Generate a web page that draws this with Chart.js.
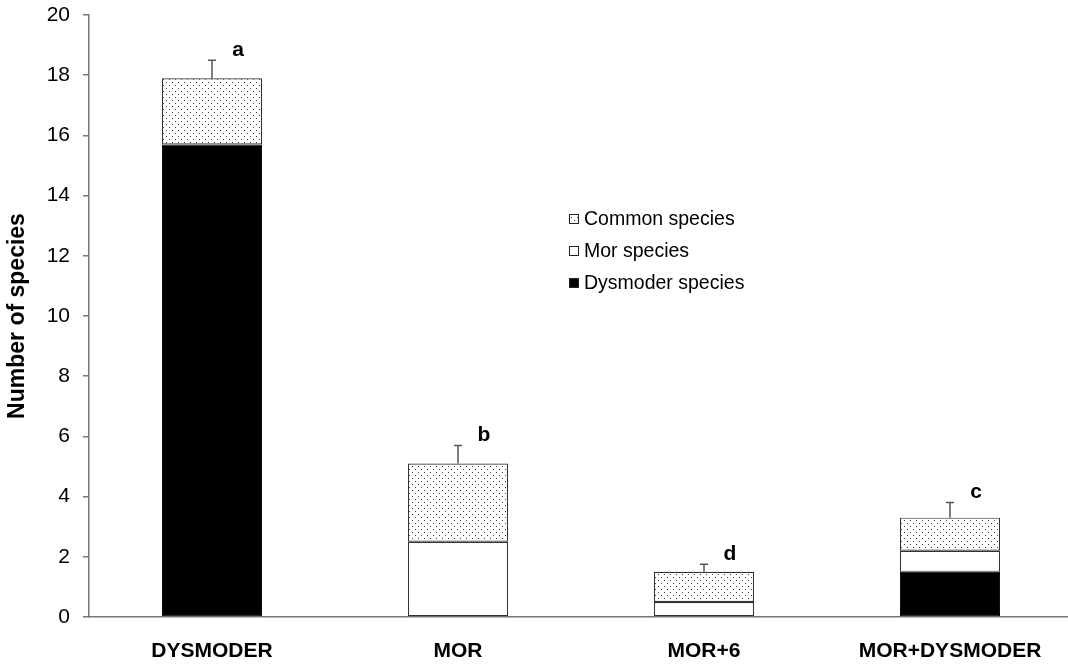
<!DOCTYPE html>
<html>
<head>
<meta charset="utf-8">
<script src="https://cdn.jsdelivr.net/npm/chart.js@4.4.1/dist/chart.umd.min.js"></script>
<style>
  html, body { margin: 0; padding: 0; background: #fff; overflow: hidden; }
  #wrap { position: relative; width: 1076px; height: 670px; }
</style>
</head>
<body>
<div id="wrap"><canvas id="c" width="1076" height="670"></canvas></div>
<script>
const categories = ['DYSMODER', 'MOR', 'MOR+6', 'MOR+DYSMODER'];
const dysmoderSpecies = [15.7, 0, 0, 1.5];
const morSpecies = [0, 2.5, 0.5, 0.7];
const commonSpecies = [2.2, 2.6, 1.0, 1.1];
const errorUp = [0.6, 0.6, 0.25, 0.5];
const groupLetters = ['a', 'b', 'd', 'c'];
const legendLabels = ['Common species', 'Mor species', 'Dysmoder species'];
const yMin = 0, yMax = 20, yStep = 2;

const FONT = '"Liberation Sans", Arial, sans-serif';

function makeDots() {
  const p = document.createElement('canvas');
  p.width = 6; p.height = 6;
  const g = p.getContext('2d');
  g.fillStyle = '#fff';
  g.fillRect(0, 0, 6, 6);
  g.fillStyle = '#3a3a3a';
  g.fillRect(1, 1, 1, 1);
  g.fillRect(4, 4, 1, 1);
  return g.createPattern(p, 'repeat');
}
const ctx0 = document.getElementById('c').getContext('2d');
const dots = makeDots();

const extras = {
  id: 'extras',
  afterDatasetsDraw(chart) {
    const { ctx, scales: { x, y } } = chart;
    ctx.save();
    for (let i = 0; i < categories.length; i++) {
      const total = dysmoderSpecies[i] + morSpecies[i] + commonSpecies[i];
      const px = x.getPixelForValue(i);
      const yTop = y.getPixelForValue(total);
      const yErr = y.getPixelForValue(total + errorUp[i]);
      ctx.strokeStyle = '#555';
      ctx.lineWidth = 1.5;
      ctx.beginPath();
      ctx.moveTo(px, yTop);
      ctx.lineTo(px, yErr);
      ctx.moveTo(px - 4, yErr);
      ctx.lineTo(px + 4, yErr);
      ctx.stroke();
      ctx.fillStyle = '#000';
      ctx.font = 'bold 21px ' + FONT;
      ctx.textAlign = 'center';
      ctx.textBaseline = 'middle';
      ctx.fillText(groupLetters[i], px + 26, yErr - 10);
    }
    // legend inside the plot
    const fills = [dots, '#fff', '#000'];
    const lx = 569, ly0 = 219, dy = 32;
    ctx.font = '19.5px ' + FONT;
    ctx.textAlign = 'left';
    ctx.textBaseline = 'middle';
    for (let k = 0; k < legendLabels.length; k++) {
      const cy = ly0 + k * dy;
      ctx.fillStyle = fills[k];
      ctx.fillRect(lx, cy - 5, 10, 10);
      ctx.strokeStyle = '#222';
      ctx.lineWidth = 1;
      ctx.strokeRect(lx + 0.5, cy - 4.5, 9, 9);
      ctx.fillStyle = '#000';
      ctx.fillText(legendLabels[k], lx + 15, cy + 1);
    }
    ctx.restore();
  }
};

new Chart(ctx0, {
  type: 'bar',
  data: {
    labels: categories,
    datasets: [
      { label: 'Dysmoder species', data: dysmoderSpecies, backgroundColor: '#000', borderColor: '#000', borderWidth: 1, borderSkipped: false },
      { label: 'Mor species', data: morSpecies, backgroundColor: '#fff', borderColor: '#333', borderWidth: 1.2, borderSkipped: false },
      { label: 'Common species', data: commonSpecies, backgroundColor: dots, borderColor: '#333', borderWidth: 1.2, borderSkipped: false }
    ]
  },
  options: {
    responsive: false,
    animation: false,
    layout: { padding: { top: 15, right: 3, left: 0, bottom: 0 } },
    datasets: { bar: { categoryPercentage: 1.0, barPercentage: 0.407 } },
    plugins: { legend: { display: false }, tooltip: { enabled: false } },
    scales: {
      x: {
        stacked: true,
        afterFit(s) { s.height = 53; s.paddingLeft = 0; s.paddingRight = 0; },
        grid: { display: true, drawOnChartArea: false, drawTicks: false },
        border: { display: true, color: '#777', width: 1.5 },
        ticks: { color: '#000', padding: 22, font: { family: FONT, size: 21, weight: 'bold' } }
      },
      y: {
        stacked: true,
        min: yMin, max: yMax,
        afterFit(s) { s.width = 89; s.paddingTop = 0; s.paddingBottom = 0; },
        grid: { display: true, drawOnChartArea: false, drawTicks: true, tickLength: 6, color: '#777', lineWidth: 1.5 },
        border: { display: true, color: '#777', width: 1.5 },
        ticks: { stepSize: yStep, color: '#000', padding: 13, font: { family: FONT, size: 21 } },
        title: { display: true, text: 'Number of species', color: '#000', padding: { top: 4, bottom: 0 }, font: { family: FONT, size: 23, weight: 'bold' } }
      }
    }
  },
  plugins: [extras]
});
</script>
</body>
</html>
